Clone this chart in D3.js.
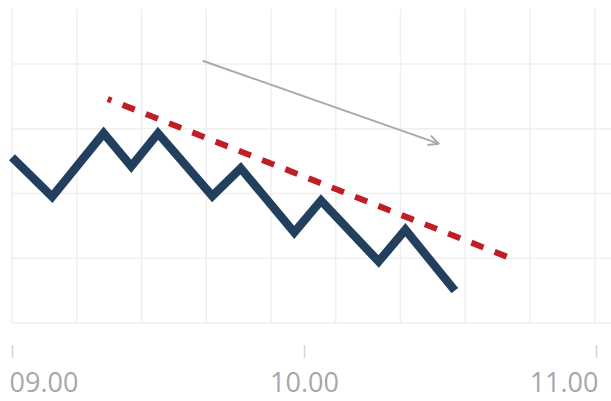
<!DOCTYPE html>
<html>
<head>
<meta charset="utf-8">
<script src="https://cdn.jsdelivr.net/npm/d3@7"></script>
<style>
  html, body { margin: 0; padding: 0; background: #fff; }
  svg { display: block; }
</style>
</head>
<body>
<div id="chart"></div>
<script>
// data
var times = ["09:00:00", "09:08:15", "09:18:50", "09:24:30", "09:30:00", "09:41:10",
             "09:47:00", "09:58:00", "10:03:30", "10:15:20", "10:20:50", "10:31:00"];
var values = [2.56, 1.95, 2.93, 2.42, 2.93, 1.96, 2.39, 1.40, 1.89, 0.95, 1.44, 0.50];

var trendTimes = ["09:19:40", "10:42:30"];
var trendValues = [3.46, 1.0];

var arrowTimes = ["09:39:10", "10:27:40"];
var arrowValues = [4.05, 2.77];

var tickLabels = ["09:00", "10:00", "11:00"];

var width = 611, height = 401;
var parse = d3.timeParse("%H:%M:%S");
var parseTick = d3.timeParse("%H:%M");

var svg = d3.select("#chart").append("svg")
    .attr("width", width)
    .attr("height", height);

var x = d3.scaleTime()
    .domain([parseTick("09:00"), parseTick("11:00")])
    .range([12, 596]);

var y = d3.scaleLinear()
    .domain([0, 5])
    .range([323, 323 - 5 * 64.75]);

// grid - square cells
var cell = 64.75;
var gx = d3.range(10).map(i => 12 + i * cell);
svg.selectAll("line.vgrid")
    .data(gx)
    .enter().append("line")
    .attr("class", "vgrid")
    .attr("x1", d => d).attr("x2", d => d)
    .attr("y1", 9).attr("y2", y(0))
    .attr("stroke", "#efefef")
    .attr("stroke-width", 1.5);

svg.selectAll("line.hgrid")
    .data([0, 1, 2, 3, 4])
    .enter().append("line")
    .attr("class", "hgrid")
    .attr("x1", 12).attr("x2", width)
    .attr("y1", d => y(d)).attr("y2", d => y(d))
    .attr("stroke", "#efefef")
    .attr("stroke-width", 1.5);

// axis
var axis = d3.axisBottom(x)
    .tickValues(tickLabels.map(parseTick))
    .tickFormat(d3.timeFormat("%H.%M"))
    .tickSize(13)
    .tickPadding(15);

var gAxis = svg.append("g")
    .attr("transform", "translate(0,345)")
    .call(axis);
gAxis.select(".domain").remove();
gAxis.selectAll(".tick line")
    .attr("stroke", "#d4d4d8")
    .attr("stroke-width", 1.5);
gAxis.selectAll(".tick text")
    .attr("fill", "#a6a6b0")
    .attr("font-family", "'Open Sans', sans-serif")
    .attr("font-size", "27px")
    .attr("text-anchor", (d, i) => i === 0 ? "start" : (i === tickLabels.length - 1 ? "end" : "middle"))
    .attr("dx", (d, i) => i === 0 ? -3 : (i === tickLabels.length - 1 ? 2 : 0));

// trend line
var line = d3.line()
    .x(d => x(d.t))
    .y(d => y(d.v));

var trend = trendTimes.map((t, i) => ({ t: parse(t), v: trendValues[i] }));
svg.append("path")
    .datum(trend)
    .attr("d", line)
    .attr("fill", "none")
    .attr("stroke", "#be1e24")
    .attr("stroke-width", 6)
    .attr("stroke-dasharray", "13,12")
    .attr("stroke-dashoffset", 9);

// main series
var series = times.map((t, i) => ({ t: parse(t), v: values[i] }));
svg.append("path")
    .datum(series)
    .attr("d", line)
    .attr("fill", "none")
    .attr("stroke", "#22405e")
    .attr("stroke-width", 8.5)
    .attr("stroke-linejoin", "miter");

// arrow annotation
svg.append("defs").append("marker")
    .attr("id", "head")
    .attr("viewBox", "0 0 12 12")
    .attr("refX", 11)
    .attr("refY", 6)
    .attr("markerWidth", 12)
    .attr("markerHeight", 12)
    .attr("markerUnits", "userSpaceOnUse")
    .attr("orient", "auto")
    .append("path")
    .attr("d", "M1,1 L11,6 L1,11")
    .attr("fill", "none")
    .attr("stroke", "#a9a7b5")
    .attr("stroke-width", 2);

var arrow = arrowTimes.map((t, i) => ({ t: parse(t), v: arrowValues[i] }));
svg.append("path")
    .datum(arrow)
    .attr("d", line)
    .attr("fill", "none")
    .attr("stroke", "#a9a7b5")
    .attr("stroke-width", 2)
    .attr("marker-end", "url(#head)");
</script>
</body>
</html>
